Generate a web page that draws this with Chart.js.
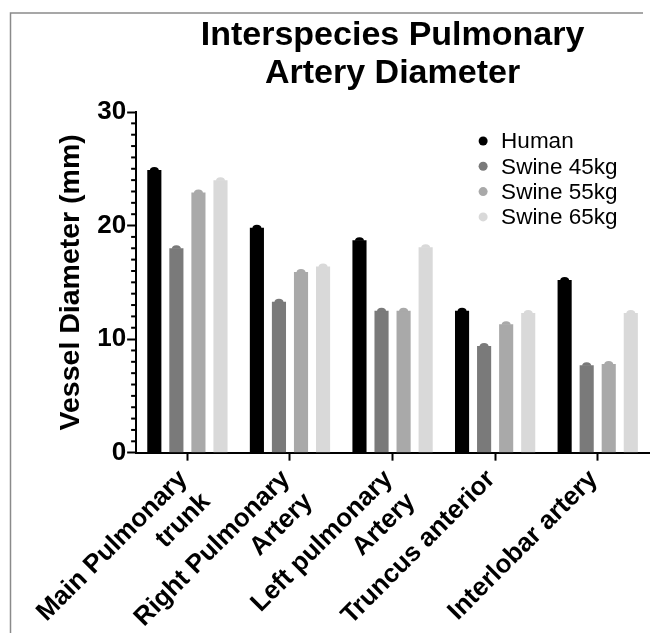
<!DOCTYPE html>
<html>
<head>
<meta charset="utf-8">
<script src="https://cdn.jsdelivr.net/npm/chart.js"></script>
<style>
    body { margin: 0; background: #fff; }
    #wrap { width: 652px; height: 633px; }
</style>
</head>
<body>
<div id="wrap"><canvas id="chart"></canvas></div>
<script>
const categories = [
    ['Main Pulmonary', 'trunk'],
    ['Right Pulmonary', 'Artery'],
    ['Left pulmonary', 'Artery'],
    'Truncus anterior',
    'Interlobar artery'
];
const seriesNames = ['Human', 'Swine 45kg', 'Swine 55kg', 'Swine 65kg'];
const human = [24.9, 19.8, 18.7, 12.5, 15.2];
const swine45 = [18.0, 13.3, 12.5, 9.4, 7.7];
const swine55 = [22.9, 15.9, 12.5, 11.3, 7.8];
const swine65 = [24.0, 16.4, 18.1, 12.3, 12.3];
const yTickLabels = [0, 10, 20, 30];

const colors = ['#000000', '#7a7a7a', '#a9a9a9', '#d9d9d9'];
const FONT = '"Liberation Sans", Arial, Helvetica, sans-serif';

// gray frame round the figure (top and left edge only, like the scan)
const frame = {
    id: 'frame',
    beforeDraw(chart) {
        const ctx = chart.ctx;
        ctx.save();
        ctx.fillStyle = '#fff';
        ctx.fillRect(0, 0, chart.width, chart.height);
        ctx.strokeStyle = '#8a8a8a';
        ctx.lineWidth = 1.5;
        ctx.beginPath();
        ctx.moveTo(10.5, chart.height);
        ctx.lineTo(10.5, 13);
        ctx.lineTo(643, 13);
        ctx.stroke();
        ctx.restore();
    }
};

// short minor ticks on the y axis
const minorTicks = {
    id: 'minorTicks',
    afterDraw(chart) {
        const ctx = chart.ctx;
        const y = chart.scales.y;
        ctx.save();
        ctx.strokeStyle = '#000';
        ctx.lineWidth = 2;
        y.ticks.forEach(t => {
            if (yTickLabels.includes(t.value)) return;
            const py = y.getPixelForValue(t.value);
            ctx.beginPath();
            ctx.moveTo(y.right - 5, py);
            ctx.lineTo(y.right, py);
            ctx.stroke();
        });
        ctx.restore();
    }
};

// little round cap on top of each bar
const barCaps = {
    id: 'barCaps',
    afterDatasetsDraw(chart) {
        const ctx = chart.ctx;
        ctx.save();
        chart.data.datasets.forEach((ds, i) => {
            ctx.fillStyle = ds.backgroundColor;
            chart.getDatasetMeta(i).data.forEach(bar => {
                ctx.beginPath();
                ctx.ellipse(bar.x, bar.y + 0.5, 4.5, 3.5, 0, Math.PI, 2 * Math.PI);
                ctx.fill();
            });
        });
        ctx.restore();
    }
};

// legend drawn inside the plot, top right
const insideLegend = {
    id: 'insideLegend',
    afterDraw(chart) {
        const {ctx, chartArea} = chart;
        ctx.save();
        ctx.font = '22.5px ' + FONT;
        ctx.textBaseline = 'middle';
        chart.data.datasets.forEach((ds, i) => {
            const y = chartArea.top + 29 + i * 25.3;
            ctx.fillStyle = ds.backgroundColor;
            ctx.beginPath();
            ctx.arc(chartArea.left + 347, y, 4.5, 0, Math.PI * 2);
            ctx.fill();
            ctx.fillStyle = '#000';
            ctx.fillText(ds.label, chartArea.left + 365, y + 1);
        });
        ctx.restore();
    }
};

const makeSet = (i, values) => ({
    label: seriesNames[i],
    data: values,
    backgroundColor: colors[i],
    borderWidth: 0,
    categoryPercentage: 0.86,
    barPercentage: 0.64
});

const config = {
    type: 'bar',
    data: {
        labels: categories,
        datasets: [
            makeSet(0, human),
            makeSet(1, swine45),
            makeSet(2, swine55),
            makeSet(3, swine65)
        ]
    },
    options: {
        responsive: true,
        maintainAspectRatio: false,
        animation: false,
        layout: {
            padding: {top: 14, left: 14, right: 3, bottom: -26}
        },
        plugins: {
            legend: {display: false},
            tooltip: {enabled: false},
            title: {
                display: true,
                fullSize: false,
                text: ['Interspecies Pulmonary', 'Artery Diameter'],
                color: '#000',
                font: {family: FONT, size: 34, weight: 'bold', lineHeight: '38px'},
                padding: {top: 3, bottom: 19}
            }
        },
        scales: {
            x: {
                grid: {
                    offset: false,
                    drawOnChartArea: false,
                    tickLength: 8,
                    tickWidth: 2,
                    tickColor: '#000'
                },
                border: {color: '#000', width: 2},
                ticks: {
                    color: '#000',
                    font: {family: FONT, size: 26, weight: 'bold', lineHeight: '32px'},
                    minRotation: 45,
                    maxRotation: 45,
                    autoSkip: false,
                    labelOffset: -4,
                    padding: 3
                }
            },
            y: {
                min: 0,
                max: 30,
                grid: {
                    drawOnChartArea: false,
                    tickLength: 9,
                    tickWidth: 2,
                    tickColor: ctx => yTickLabels.includes(ctx.tick.value) ? '#000' : 'rgba(0,0,0,0)'
                },
                border: {color: '#000', width: 2},
                ticks: {
                    stepSize: 1,
                    autoSkip: false,
                    color: '#000',
                    padding: 1,
                    font: {family: FONT, size: 26, weight: 'bold'},
                    callback: v => yTickLabels.includes(v) ? String(v) : ''
                },
                title: {
                    display: true,
                    text: 'Vessel Diameter (mm)',
                    color: '#000',
                    font: {family: FONT, size: 28.5, weight: 'bold'},
                    padding: {top: 40, bottom: 8}
                }
            }
        }
    },
    plugins: [frame, minorTicks, barCaps, insideLegend]
};

window.onload = () => {
    const ctx = document.getElementById('chart').getContext('2d');
    window.myChart = new Chart(ctx, config);
};
</script>
</body>
</html>
